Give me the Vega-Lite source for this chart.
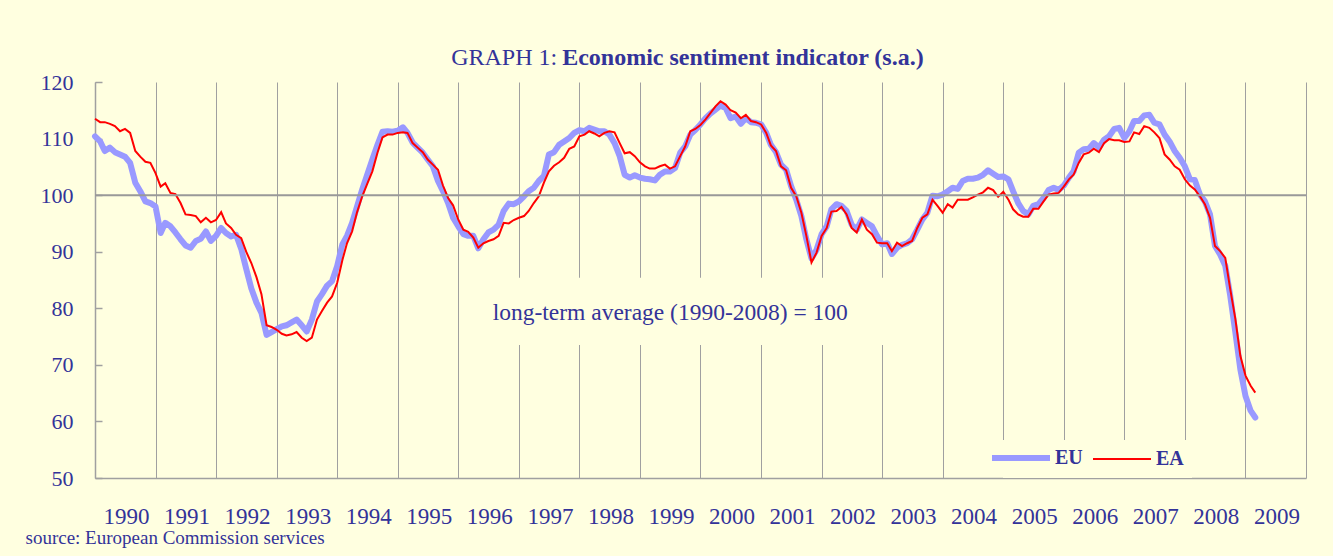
{
  "$schema": "https://vega.github.io/schema/vega-lite/v6.json",
  "width": 1211,
  "height": 396,
  "autosize": {"type": "none"},
  "padding": {"left": 95, "top": 82, "right": 27, "bottom": 78},
  "background": "#FFFFE0",
  "config": {"view": {"stroke": null}},
  "datasets": {
    "esi": [
    {"date":"1990-01-01","EU":110.4,"EA":113.5},{"date":"1990-02-01","EU":109.5,"EA":112.9},{"date":"1990-03-01","EU":107.8,"EA":112.9},{"date":"1990-04-01","EU":108.4,"EA":112.6},{"date":"1990-05-01","EU":107.6,"EA":112.2},{"date":"1990-06-01","EU":107.2,"EA":111.3},{"date":"1990-07-01","EU":106.8,"EA":111.7},{"date":"1990-08-01","EU":105.7,"EA":111.0},{"date":"1990-09-01","EU":102.2,"EA":107.8},{"date":"1990-10-01","EU":100.7,"EA":106.8},{"date":"1990-11-01","EU":98.9,"EA":105.9},{"date":"1990-12-01","EU":98.6,"EA":105.7},
    {"date":"1991-01-01","EU":98.0,"EA":103.9},{"date":"1991-02-01","EU":93.3,"EA":101.5},{"date":"1991-03-01","EU":95.1,"EA":102.1},{"date":"1991-04-01","EU":94.5,"EA":100.4},{"date":"1991-05-01","EU":93.4,"EA":100.2},{"date":"1991-06-01","EU":92.2,"EA":98.6},{"date":"1991-07-01","EU":91.1,"EA":96.6},{"date":"1991-08-01","EU":90.7,"EA":96.5},{"date":"1991-09-01","EU":91.9,"EA":96.3},{"date":"1991-10-01","EU":92.3,"EA":95.2},{"date":"1991-11-01","EU":93.6,"EA":96.0},{"date":"1991-12-01","EU":91.9,"EA":95.2},
    {"date":"1992-01-01","EU":92.8,"EA":95.6},{"date":"1992-02-01","EU":94.2,"EA":97.0},{"date":"1992-03-01","EU":93.3,"EA":95.0},{"date":"1992-04-01","EU":92.7,"EA":94.2},{"date":"1992-05-01","EU":93.0,"EA":93.0},{"date":"1992-06-01","EU":90.5,"EA":92.4},{"date":"1992-07-01","EU":87.0,"EA":90.0},{"date":"1992-08-01","EU":83.5,"EA":88.0},{"date":"1992-09-01","EU":81.0,"EA":85.5},{"date":"1992-10-01","EU":79.2,"EA":82.5},{"date":"1992-11-01","EU":75.3,"EA":77.0},{"date":"1992-12-01","EU":75.8,"EA":76.7},
    {"date":"1993-01-01","EU":76.3,"EA":76.2},{"date":"1993-02-01","EU":76.8,"EA":75.5},{"date":"1993-03-01","EU":77.0,"EA":75.2},{"date":"1993-04-01","EU":77.5,"EA":75.4},{"date":"1993-05-01","EU":78.0,"EA":75.8},{"date":"1993-06-01","EU":77.0,"EA":74.8},{"date":"1993-07-01","EU":75.9,"EA":74.2},{"date":"1993-08-01","EU":78.0,"EA":74.8},{"date":"1993-09-01","EU":81.2,"EA":78.0},{"date":"1993-10-01","EU":82.5,"EA":79.5},{"date":"1993-11-01","EU":84.0,"EA":81.0},{"date":"1993-12-01","EU":84.8,"EA":82.1},
    {"date":"1994-01-01","EU":87.5,"EA":84.5},{"date":"1994-02-01","EU":91.3,"EA":88.5},{"date":"1994-03-01","EU":92.8,"EA":91.5},{"date":"1994-04-01","EU":95.1,"EA":93.6},{"date":"1994-05-01","EU":98.0,"EA":97.0},{"date":"1994-06-01","EU":101.0,"EA":99.8},{"date":"1994-07-01","EU":103.6,"EA":102.0},{"date":"1994-08-01","EU":106.3,"EA":104.2},{"date":"1994-09-01","EU":108.9,"EA":107.5},{"date":"1994-10-01","EU":111.2,"EA":110.2},{"date":"1994-11-01","EU":111.3,"EA":110.7},{"date":"1994-12-01","EU":111.2,"EA":110.7},
    {"date":"1995-01-01","EU":111.4,"EA":111.0},{"date":"1995-02-01","EU":112.0,"EA":111.1},{"date":"1995-03-01","EU":111.0,"EA":111.0},{"date":"1995-04-01","EU":109.3,"EA":109.2},{"date":"1995-05-01","EU":108.4,"EA":108.4},{"date":"1995-06-01","EU":107.5,"EA":107.6},{"date":"1995-07-01","EU":106.3,"EA":106.3},{"date":"1995-08-01","EU":105.1,"EA":105.4},{"date":"1995-09-01","EU":102.5,"EA":104.5},{"date":"1995-10-01","EU":100.7,"EA":101.7},{"date":"1995-11-01","EU":98.6,"EA":99.5},{"date":"1995-12-01","EU":96.0,"EA":98.2},
    {"date":"1996-01-01","EU":94.5,"EA":95.7},{"date":"1996-02-01","EU":93.1,"EA":93.9},{"date":"1996-03-01","EU":92.8,"EA":93.5},{"date":"1996-04-01","EU":92.8,"EA":92.5},{"date":"1996-05-01","EU":90.6,"EA":90.7},{"date":"1996-06-01","EU":92.2,"EA":91.5},{"date":"1996-07-01","EU":93.4,"EA":91.9},{"date":"1996-08-01","EU":93.9,"EA":92.2},{"date":"1996-09-01","EU":94.8,"EA":92.8},{"date":"1996-10-01","EU":97.2,"EA":95.1},{"date":"1996-11-01","EU":98.5,"EA":95.0},{"date":"1996-12-01","EU":98.4,"EA":95.6},
    {"date":"1997-01-01","EU":98.9,"EA":96.0},{"date":"1997-02-01","EU":99.8,"EA":96.3},{"date":"1997-03-01","EU":100.7,"EA":97.2},{"date":"1997-04-01","EU":101.3,"EA":98.6},{"date":"1997-05-01","EU":102.5,"EA":99.8},{"date":"1997-06-01","EU":103.4,"EA":102.2},{"date":"1997-07-01","EU":107.2,"EA":104.2},{"date":"1997-08-01","EU":107.6,"EA":105.2},{"date":"1997-09-01","EU":108.9,"EA":105.8},{"date":"1997-10-01","EU":109.5,"EA":106.6},{"date":"1997-11-01","EU":110.1,"EA":108.2},{"date":"1997-12-01","EU":111.0,"EA":108.6},
    {"date":"1998-01-01","EU":111.5,"EA":110.4},{"date":"1998-02-01","EU":111.3,"EA":110.7},{"date":"1998-03-01","EU":111.9,"EA":111.3},{"date":"1998-04-01","EU":111.6,"EA":110.9},{"date":"1998-05-01","EU":111.3,"EA":110.4},{"date":"1998-06-01","EU":111.3,"EA":111.0},{"date":"1998-07-01","EU":110.7,"EA":111.3},{"date":"1998-08-01","EU":109.2,"EA":111.1},{"date":"1998-09-01","EU":106.9,"EA":109.2},{"date":"1998-10-01","EU":103.6,"EA":107.4},{"date":"1998-11-01","EU":103.1,"EA":107.6},{"date":"1998-12-01","EU":103.5,"EA":106.9},
    {"date":"1999-01-01","EU":103.1,"EA":105.8},{"date":"1999-02-01","EU":102.9,"EA":105.1},{"date":"1999-03-01","EU":102.8,"EA":104.7},{"date":"1999-04-01","EU":102.6,"EA":104.7},{"date":"1999-05-01","EU":103.6,"EA":105.1},{"date":"1999-06-01","EU":104.2,"EA":105.4},{"date":"1999-07-01","EU":104.2,"EA":104.7},{"date":"1999-08-01","EU":104.8,"EA":105.1},{"date":"1999-09-01","EU":107.5,"EA":106.9},{"date":"1999-10-01","EU":108.6,"EA":108.6},{"date":"1999-11-01","EU":110.7,"EA":111.3},{"date":"1999-12-01","EU":111.5,"EA":111.7},
    {"date":"2000-01-01","EU":112.5,"EA":112.4},{"date":"2000-02-01","EU":113.6,"EA":113.4},{"date":"2000-03-01","EU":114.4,"EA":114.5},{"date":"2000-04-01","EU":115.1,"EA":115.7},{"date":"2000-05-01","EU":115.8,"EA":116.6},{"date":"2000-06-01","EU":115.4,"EA":116.0},{"date":"2000-07-01","EU":113.6,"EA":115.0},{"date":"2000-08-01","EU":113.9,"EA":114.6},{"date":"2000-09-01","EU":112.6,"EA":113.6},{"date":"2000-10-01","EU":113.6,"EA":114.2},{"date":"2000-11-01","EU":112.9,"EA":113.1},{"date":"2000-12-01","EU":112.8,"EA":112.9},
    {"date":"2001-01-01","EU":112.5,"EA":112.5},{"date":"2001-02-01","EU":111.0,"EA":111.0},{"date":"2001-03-01","EU":108.9,"EA":108.8},{"date":"2001-04-01","EU":107.6,"EA":107.8},{"date":"2001-05-01","EU":105.4,"EA":105.1},{"date":"2001-06-01","EU":104.5,"EA":104.4},{"date":"2001-07-01","EU":101.6,"EA":101.3},{"date":"2001-08-01","EU":99.2,"EA":99.8},{"date":"2001-09-01","EU":96.3,"EA":96.9},{"date":"2001-10-01","EU":92.2,"EA":92.8},{"date":"2001-11-01","EU":88.8,"EA":88.1},{"date":"2001-12-01","EU":90.3,"EA":89.8},
    {"date":"2002-01-01","EU":93.1,"EA":92.8},{"date":"2002-02-01","EU":94.5,"EA":94.2},{"date":"2002-03-01","EU":97.5,"EA":97.1},{"date":"2002-04-01","EU":98.4,"EA":97.2},{"date":"2002-05-01","EU":98.1,"EA":97.9},{"date":"2002-06-01","EU":97.2,"EA":96.6},{"date":"2002-07-01","EU":94.8,"EA":94.2},{"date":"2002-08-01","EU":93.9,"EA":93.4},{"date":"2002-09-01","EU":95.7,"EA":95.7},{"date":"2002-10-01","EU":95.1,"EA":93.9},{"date":"2002-11-01","EU":94.5,"EA":93.1},{"date":"2002-12-01","EU":92.8,"EA":91.6},
    {"date":"2003-01-01","EU":91.3,"EA":91.5},{"date":"2003-02-01","EU":91.5,"EA":91.5},{"date":"2003-03-01","EU":89.6,"EA":90.1},{"date":"2003-04-01","EU":90.7,"EA":91.6},{"date":"2003-05-01","EU":91.2,"EA":91.0},{"date":"2003-06-01","EU":91.5,"EA":91.5},{"date":"2003-07-01","EU":92.2,"EA":91.9},{"date":"2003-08-01","EU":93.9,"EA":94.2},{"date":"2003-09-01","EU":95.7,"EA":96.0},{"date":"2003-10-01","EU":96.9,"EA":96.6},{"date":"2003-11-01","EU":99.9,"EA":99.2},{"date":"2003-12-01","EU":99.8,"EA":98.1},
    {"date":"2004-01-01","EU":100.1,"EA":96.9},{"date":"2004-02-01","EU":100.7,"EA":98.4},{"date":"2004-03-01","EU":101.3,"EA":97.8},{"date":"2004-04-01","EU":101.1,"EA":99.2},{"date":"2004-05-01","EU":102.5,"EA":99.2},{"date":"2004-06-01","EU":102.9,"EA":99.2},{"date":"2004-07-01","EU":102.9,"EA":99.6},{"date":"2004-08-01","EU":103.1,"EA":100.1},{"date":"2004-09-01","EU":103.6,"EA":100.5},{"date":"2004-10-01","EU":104.4,"EA":101.3},{"date":"2004-11-01","EU":103.8,"EA":100.9},{"date":"2004-12-01","EU":103.2,"EA":99.7},
    {"date":"2005-01-01","EU":103.3,"EA":100.6},{"date":"2005-02-01","EU":102.8,"EA":99.2},{"date":"2005-03-01","EU":100.7,"EA":97.5},{"date":"2005-04-01","EU":98.6,"EA":96.6},{"date":"2005-05-01","EU":97.2,"EA":96.2},{"date":"2005-06-01","EU":96.6,"EA":96.2},{"date":"2005-07-01","EU":98.1,"EA":97.6},{"date":"2005-08-01","EU":98.4,"EA":97.6},{"date":"2005-09-01","EU":99.5,"EA":98.9},{"date":"2005-10-01","EU":100.9,"EA":100.1},{"date":"2005-11-01","EU":101.3,"EA":100.3},{"date":"2005-12-01","EU":100.9,"EA":100.4},
    {"date":"2006-01-01","EU":101.7,"EA":101.5},{"date":"2006-02-01","EU":103.1,"EA":102.8},{"date":"2006-03-01","EU":104.2,"EA":103.6},{"date":"2006-04-01","EU":107.5,"EA":105.7},{"date":"2006-05-01","EU":108.1,"EA":107.2},{"date":"2006-06-01","EU":108.2,"EA":107.5},{"date":"2006-07-01","EU":109.2,"EA":108.2},{"date":"2006-08-01","EU":108.4,"EA":107.6},{"date":"2006-09-01","EU":109.8,"EA":109.2},{"date":"2006-10-01","EU":110.4,"EA":109.9},{"date":"2006-11-01","EU":111.7,"EA":109.7},{"date":"2006-12-01","EU":111.9,"EA":109.7},
    {"date":"2007-01-01","EU":110.1,"EA":109.4},{"date":"2007-02-01","EU":111.3,"EA":109.5},{"date":"2007-03-01","EU":113.1,"EA":111.1},{"date":"2007-04-01","EU":113.1,"EA":110.8},{"date":"2007-05-01","EU":114.1,"EA":112.2},{"date":"2007-06-01","EU":114.2,"EA":111.9},{"date":"2007-07-01","EU":112.8,"EA":111.1},{"date":"2007-08-01","EU":112.5,"EA":110.1},{"date":"2007-09-01","EU":110.7,"EA":107.2},{"date":"2007-10-01","EU":109.5,"EA":106.3},{"date":"2007-11-01","EU":107.8,"EA":105.1},{"date":"2007-12-01","EU":106.6,"EA":104.5},
    {"date":"2008-01-01","EU":105.1,"EA":102.8},{"date":"2008-02-01","EU":102.8,"EA":101.7},{"date":"2008-03-01","EU":102.7,"EA":101.0},{"date":"2008-04-01","EU":100.1,"EA":99.8},{"date":"2008-05-01","EU":98.9,"EA":98.4},{"date":"2008-06-01","EU":96.6,"EA":96.0},{"date":"2008-07-01","EU":91.0,"EA":91.0},{"date":"2008-08-01","EU":89.5,"EA":90.1},{"date":"2008-09-01","EU":87.5,"EA":88.9},{"date":"2008-10-01","EU":82.2,"EA":83.4},{"date":"2008-11-01","EU":75.7,"EA":78.1},{"date":"2008-12-01","EU":69.2,"EA":71.6},
    {"date":"2009-01-01","EU":64.5,"EA":68.1},{"date":"2009-02-01","EU":61.9,"EA":66.3},{"date":"2009-03-01","EU":60.7,"EA":65.1}
    ],
    "one": [{}]
  },
  "layer": [
    {
      "data": {"name": "esi"},
      "mark": {"type": "line", "strokeWidth": 6, "strokeJoin": "round", "strokeCap": "round"},
      "encoding": {
        "x": {
          "field": "date",
          "type": "temporal",
          "scale": {"type": "utc", "domain": [{"year": 1990, "month": 1, "date": 1, "utc": true}, {"year": 2010, "month": 1, "date": 1, "utc": true}]},
          "axis": {
            "values": [
              {"year":1990,"month":1,"date":1,"utc":true},{"year":1991,"month":1,"date":1,"utc":true},{"year":1992,"month":1,"date":1,"utc":true},{"year":1993,"month":1,"date":1,"utc":true},{"year":1994,"month":1,"date":1,"utc":true},{"year":1995,"month":1,"date":1,"utc":true},{"year":1996,"month":1,"date":1,"utc":true},{"year":1997,"month":1,"date":1,"utc":true},{"year":1998,"month":1,"date":1,"utc":true},{"year":1999,"month":1,"date":1,"utc":true},{"year":2000,"month":1,"date":1,"utc":true},{"year":2001,"month":1,"date":1,"utc":true},{"year":2002,"month":1,"date":1,"utc":true},{"year":2003,"month":1,"date":1,"utc":true},{"year":2004,"month":1,"date":1,"utc":true},{"year":2005,"month":1,"date":1,"utc":true},{"year":2006,"month":1,"date":1,"utc":true},{"year":2007,"month":1,"date":1,"utc":true},{"year":2008,"month":1,"date":1,"utc":true},{"year":2009,"month":1,"date":1,"utc":true},{"year":2010,"month":1,"date":1,"utc":true}
            ],
            "labelExpr": "utcyear(datum.value) < 2010 ? utcFormat(datum.value, '%Y') : ''",
            "grid": true,
            "gridColor": "#A0A0A0",
            "gridWidth": 1,
            "ticks": false,
            "domainColor": "#A0A0A0",
            "domainWidth": 1.5,
            "labelFlush": false,
            "labelOverlap": false,
            "labelOffset": 31,
            "labelPadding": 27,
            "labelFont": "Liberation Serif",
            "labelFontSize": 23,
            "labelColor": "#333399",
            "title": "source: European Commission services",
            "titleFont": "Liberation Serif",
            "titleFontSize": 19,
            "titleFontWeight": "normal",
            "titleColor": "#333399",
            "titleAnchor": "start",
            "titleAlign": "left",
            "titleBaseline": "alphabetic",
            "titleX": -70,
            "titleY": 65
          }
        },
        "y": {
          "field": "EU", "type": "quantitative",
          "scale": {"domain": [50, 120], "zero": false},
          "axis": {
            "values": [50, 60, 70, 80, 90, 100, 110, 120],
            "grid": false,
            "title": null,
            "domainColor": "#A0A0A0",
            "domainWidth": 1.5,
            "tickColor": "#A0A0A0",
            "tickWidth": 1.5,
            "tickSize": -7,
            "labelPadding": 29,
            "labelFont": "Liberation Serif",
            "labelFontSize": 22,
            "labelColor": "#333399"
          }
        },
        "color": {
          "datum": "EU",
          "type": "nominal",
          "scale": {"domain": ["EU", "EA"], "range": ["#9999FF", "#FF0000"]},
          "legend": {
            "title": null,
            "orient": "none",
            "legendX": 908,
            "legendY": 358,
            "direction": "horizontal",
            "symbolType": "stroke",
            "symbolSize": 3364,
            "symbolStrokeWidth": 2,
            "columnPadding": 6,
            "labelOffset": 24,
            "padding": 8,
            "fillColor": "#FFFFE0",
            "labelFont": "Liberation Serif",
            "labelFontSize": 20,
            "labelFontWeight": "bold",
            "labelColor": "#333399",
            "encode": {"symbols": {"update": {"strokeWidth": {"signal": "datum.value === 'EU' ? 6 : 2"}}}}
          }
        }
      }
    },
    {
      "data": {"name": "esi"},
      "mark": {"type": "line", "strokeWidth": 2},
      "encoding": {
        "x": {"field": "date", "type": "temporal"},
        "y": {"field": "EA", "type": "quantitative", "scale": {"domain": [50, 120], "zero": false}},
        "color": {"datum": "EA", "type": "nominal"}
      }
    },
    {
      "data": {"name": "one"},
      "mark": {"type": "rule", "color": "#999999", "strokeWidth": 2},
      "encoding": {"y": {"datum": 100, "type": "quantitative", "scale": {"domain": [50, 120], "zero": false}}}
    },
    {
      "data": {"name": "one"},
      "mark": {"type": "rect", "fill": "#FFFFE0"},
      "encoding": {
        "x": {"datum": {"year": 1996, "month": 4, "date": 1, "utc": true}, "type": "temporal"},
        "x2": {"datum": {"year": 2003, "month": 2, "date": 15, "utc": true}},
        "y": {"datum": 85.4, "type": "quantitative", "scale": {"domain": [50, 120], "zero": false}},
        "y2": {"datum": 73.5}
      }
    },
    {
      "data": {"name": "one"},
      "mark": {"type": "text", "font": "Liberation Serif", "fontSize": 23.5, "color": "#333399", "align": "center", "baseline": "middle"},
      "encoding": {
        "x": {"datum": {"year": 1999, "month": 7, "date": 3, "utc": true}, "type": "temporal"},
        "y": {"datum": 79.1, "type": "quantitative", "scale": {"domain": [50, 120], "zero": false}},
        "text": {"value": "long-term average (1990-2008) = 100"}
      }
    },
    {
      "data": {"name": "one"},
      "mark": {"type": "text", "font": "Liberation Serif", "fontSize": 24, "color": "#333399", "align": "right", "baseline": "alphabetic", "dx": -2},
      "encoding": {
        "x": {"datum": {"year": 1997, "month": 9, "date": 1, "utc": true}, "type": "temporal"},
        "y": {"datum": 123, "type": "quantitative", "scale": {"domain": [50, 120], "zero": false}},
        "text": {"value": "GRAPH 1:"}
      }
    },
    {
      "data": {"name": "one"},
      "mark": {"type": "text", "font": "Liberation Serif", "fontSize": 24, "fontWeight": "bold", "color": "#333399", "align": "left", "baseline": "alphabetic", "dx": 3},
      "encoding": {
        "x": {"datum": {"year": 1997, "month": 9, "date": 1, "utc": true}, "type": "temporal"},
        "y": {"datum": 123, "type": "quantitative", "scale": {"domain": [50, 120], "zero": false}},
        "text": {"value": "Economic sentiment indicator (s.a.)"}
      }
    }
  ]
}
